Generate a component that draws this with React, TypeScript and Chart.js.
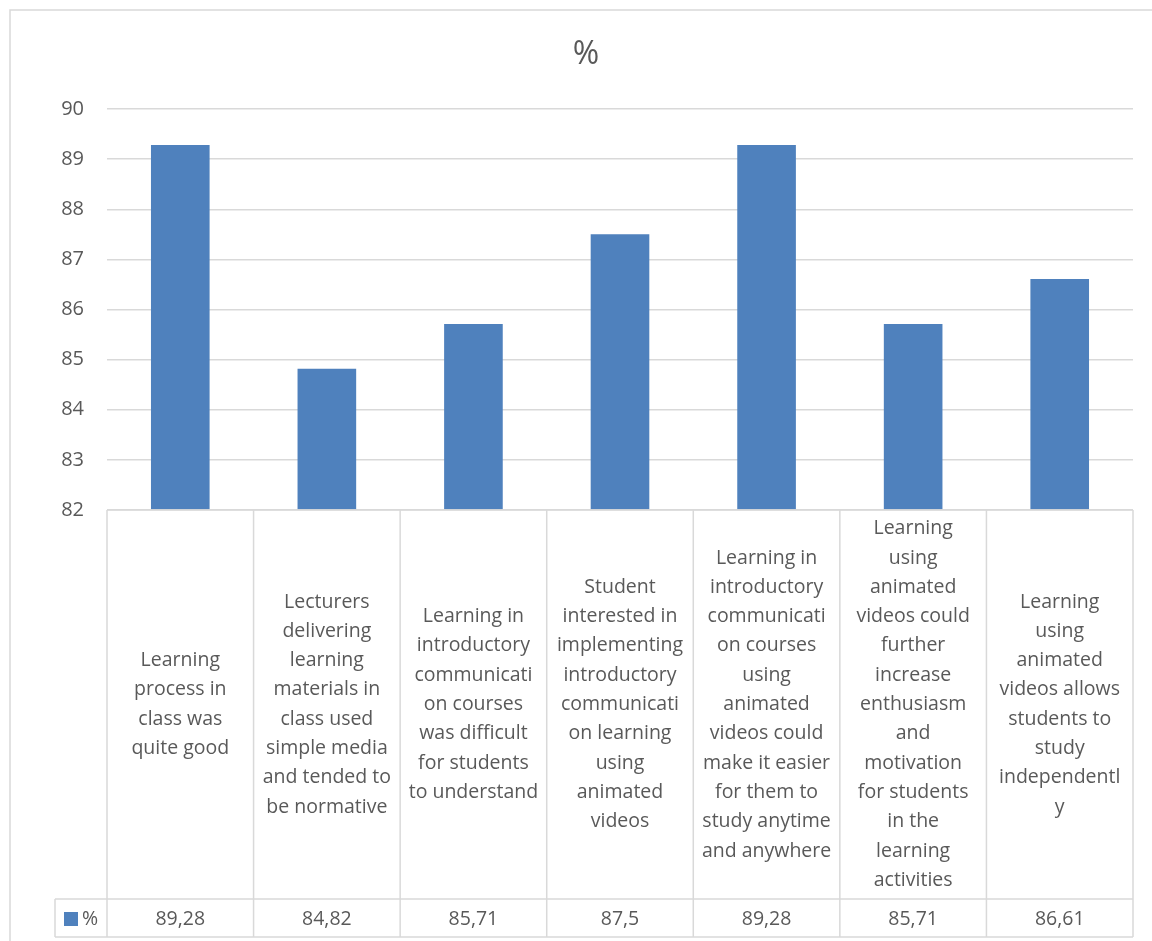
import React, { useEffect, useRef } from "react";
import { Chart, registerables } from "chart.js";

Chart.register(...registerables);

const titleText = "%";
const seriesName = "%";

const categories: string[][] = [
  ["Learning", "process in", "class was", "quite good"],
  ["Lecturers", "delivering", "learning", "materials in", "class used", "simple media", "and tended to", "be normative"],
  ["Learning in", "introductory", "communicati", "on courses", "was difficult", "for students", "to understand"],
  ["Student", "interested in", "implementing", "introductory", "communicati", "on learning", "using", "animated", "videos"],
  ["Learning in", "introductory", "communicati", "on courses", "using", "animated", "videos could", "make it easier", "for them to", "study anytime", "and anywhere"],
  ["Learning", "using", "animated", "videos could", "further", "increase", "enthusiasm", "and", "motivation", "for students", "in the", "learning", "activities"],
  ["Learning", "using", "animated", "videos allows", "students to", "study", "independentl", "y"],
];

const values: number[] = [89.28, 84.82, 85.71, 87.5, 89.28, 85.71, 86.61];

const yMin = 82;
const yMax = 90;
const yStep = 1;

const FONT = "'Open Sans', Lato, sans-serif";
const TEXT = "#595959";
const LINE = "#d9d9d9";
const BAR = "#4f81bd";

const fmt = (v: number) => String(v).replace(".", ",");

const tablePlugin = {
  id: "excelTable",
  beforeDraw(chart: any) {
    const { ctx, width, height } = chart;
    ctx.save();
    ctx.fillStyle = "#ffffff";
    ctx.fillRect(0, 0, width, height);
    ctx.strokeStyle = LINE;
    ctx.lineWidth = 1.5;
    ctx.strokeRect(10, 10, width + 20, height + 20);
    ctx.restore();
  },
  afterDraw(chart: any) {
    const { ctx, chartArea, scales } = chart;
    const xs = scales.x;
    const n = values.length;
    const colW = (chartArea.right - chartArea.left) / n;
    const top = chartArea.bottom;
    const rowSplit = top + 389;
    const bottom = rowSplit + 38;
    const legendLeft = 55;

    ctx.save();
    // title
    ctx.fillStyle = TEXT;
    ctx.font = `32px ${FONT}`;
    ctx.textAlign = "center";
    ctx.textBaseline = "middle";
    ctx.fillText(titleText, 586, 55);

    // table lines
    ctx.strokeStyle = LINE;
    ctx.lineWidth = 1.5;
    ctx.beginPath();
    ctx.moveTo(chartArea.left, top);
    ctx.lineTo(chartArea.right, top);
    ctx.moveTo(legendLeft, rowSplit);
    ctx.lineTo(chartArea.right, rowSplit);
    ctx.moveTo(legendLeft, bottom);
    ctx.lineTo(chartArea.right, bottom);
    ctx.moveTo(legendLeft, rowSplit);
    ctx.lineTo(legendLeft, bottom);
    for (let i = 0; i <= n; i++) {
      const cx = i < n ? xs.getPixelForValue(i) - colW / 2 : xs.getPixelForValue(n - 1) + colW / 2;
      ctx.moveTo(cx, top);
      ctx.lineTo(cx, bottom);
    }
    ctx.stroke();

    // category labels
    ctx.fillStyle = TEXT;
    ctx.font = `19.5px ${FONT}`;
    ctx.textAlign = "center";
    ctx.textBaseline = "middle";
    const lh = 29.3;
    const midY = (top + rowSplit) / 2;
    categories.forEach((lines, i) => {
      const cx = xs.getPixelForValue(i);
      const start = midY - ((lines.length - 1) * lh) / 2;
      lines.forEach((ln, j) => ctx.fillText(ln, cx, start + j * lh));
    });

    // values row
    const vy = (rowSplit + bottom) / 2 + 1;
    values.forEach((v, i) => {
      ctx.fillText(fmt(v), xs.getPixelForValue(i), vy);
    });

    // legend key
    ctx.fillStyle = BAR;
    ctx.fillRect(64, vy - 7, 14, 14);
    ctx.fillStyle = TEXT;
    ctx.textAlign = "left";
    ctx.fillText(seriesName, 82, vy);
    ctx.restore();
  },
};

export default function App() {
  const ref = useRef<HTMLCanvasElement | null>(null);

  useEffect(() => {
    document.body.style.margin = "0";
    const canvas = ref.current;
    if (!canvas) return;
    const chart = new Chart(canvas, {
      type: "bar",
      data: {
        labels: categories.map((c) => c.join(" ")),
        datasets: [
          {
            label: seriesName,
            data: values,
            backgroundColor: BAR,
            borderWidth: 0,
            barPercentage: 0.4,
            categoryPercentage: 1,
            base: yMin,
          },
        ],
      },
      options: {
        responsive: false,
        animation: false,
        devicePixelRatio: 1,
        layout: { padding: { left: 10, top: 109, right: 19, bottom: 431 } },
        plugins: {
          legend: { display: false },
          title: { display: false },
          tooltip: { enabled: false },
        },
        scales: {
          x: { display: false, offset: true },
          y: {
            min: yMin,
            max: yMax,
            border: { display: false },
            grid: { color: LINE, lineWidth: 1.5, drawTicks: false },
            ticks: {
              stepSize: yStep,
              padding: 23,
              color: TEXT,
              font: { family: FONT, size: 20 },
            },
            afterFit: (s: any) => {
              s.width = 97;
            },
          },
        },
      },
      plugins: [tablePlugin],
    } as any);
    return () => chart.destroy();
  }, []);

  return (
    <div style={{ width: 1152, height: 941 }}>
      <canvas ref={ref} width={1152} height={941} style={{ display: "block" }} />
    </div>
  );
}
